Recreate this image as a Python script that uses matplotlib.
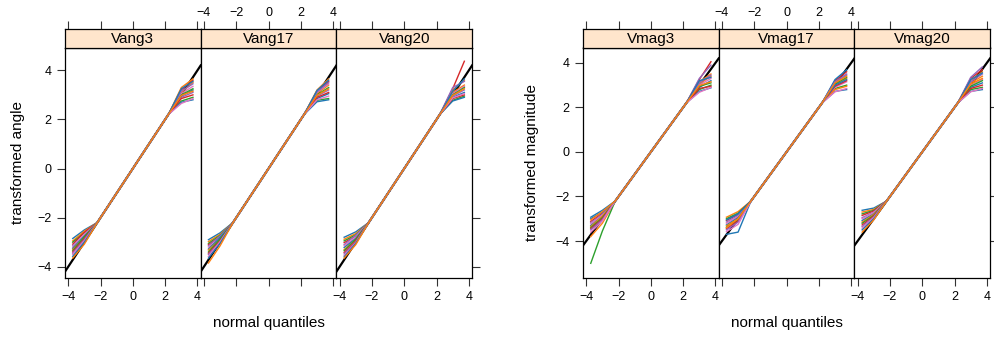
import numpy as np
import matplotlib
matplotlib.use("Agg")
import matplotlib.pyplot as plt

plt.rcParams['font.family'] = ['Liberation Sans', 'DejaVu Sans']

# ---------------- data ----------------
panels_angle = ["Vang3", "Vang17", "Vang20"]
panels_mag = ["Vmag3", "Vmag17", "Vmag20"]

# normal quantile knots of each qq line
q_knots = [-3.72, -3.0, -2.2, 2.2, 3.0, 3.72]
mid_y = [-2.2, 2.2]   # all lines run together on the diagonal in the middle

vang3_lo_end = [-2.85, -2.95, -3.0, -3.08, -3.15, -3.2, -3.25, -3.3, -3.35, -3.4, -3.45, -3.5, -3.58, -3.65]
vang3_lo_mid = [-2.5, -2.55, -2.62, -2.6, -2.7, -2.68, -2.75, -2.8, -2.78, -2.85, -2.9, -2.95, -3.0, -3.08]
vang3_hi_mid = [2.95, 3.1, 2.75, 3.2, 2.9, 3.05, 2.7, 3.3, 3.0, 2.85, 3.15, 2.65, 3.25, 2.98]
vang3_hi_end = [3.2, 3.5, 2.9, 3.6, 3.1, 3.35, 2.8, 3.65, 3.25, 3.0, 3.45, 2.85, 3.55, 3.15]

vang17_lo_end = [-2.9, -2.98, -3.05, -3.1, -3.15, -3.2, -3.28, -3.32, -3.4, -3.45, -3.5, -3.58, -3.65, -3.85]
vang17_lo_mid = [-2.62, -2.68, -2.72, -2.78, -2.75, -2.85, -2.82, -2.9, -2.88, -2.95, -3.0, -2.98, -3.05, -3.15]
vang17_hi_mid = [2.85, 3.05, 2.78, 3.15, 2.95, 3.1, 2.72, 3.2, 3.0, 2.9, 3.12, 2.8, 3.18, 2.98]
vang17_hi_end = [3.05, 3.4, 2.85, 3.55, 3.2, 3.45, 2.8, 3.65, 3.3, 3.1, 3.5, 2.95, 3.6, 3.25]

vang20_lo_end = [-2.8, -2.88, -2.95, -3.02, -3.1, -3.15, -3.22, -3.3, -3.35, -3.42, -3.48, -3.55, -3.6, -3.65]
vang20_lo_mid = [-2.58, -2.65, -2.7, -2.75, -2.72, -2.8, -2.85, -2.9, -2.88, -2.95, -3.0, -3.02, -3.05, -3.1]
vang20_hi_mid = [2.9, 3.1, 2.78, 3.25, 2.95, 3.05, 2.75, 3.2, 3.0, 2.85, 3.3, 2.88, 3.15, 2.98]
vang20_hi_end = [3.1, 3.4, 2.95, 4.37, 3.2, 3.35, 2.9, 3.6, 3.3, 3.0, 3.55, 3.05, 3.65, 3.25]

vmag3_lo_end = [-2.93, -3.8, -5.0, -3.12, -3.18, -3.22, -3.3, -3.35, -3.4, -3.45, -3.5, -3.6, -3.0, -3.05]
vmag3_lo_mid = [-2.62, -3.2, -3.55, -2.75, -2.8, -2.85, -2.9, -2.88, -2.95, -3.0, -3.05, -3.1, -2.7, -2.68]
vmag3_hi_mid = [2.9, 3.05, 2.8, 3.25, 3.3, 3.0, 2.72, 3.15, 2.95, 2.85, 3.1, 2.68, 3.2, 2.98]
vmag3_hi_end = [3.2, 3.4, 3.0, 4.05, 3.9, 3.3, 2.88, 3.5, 3.1, 2.95, 3.45, 2.9, 3.35, 3.15]

vmag17_lo_end = [-3.7, -2.93, -3.0, -3.08, -3.15, -3.2, -3.28, -3.32, -3.38, -3.45, -3.5, -3.58, -3.05, -3.4]
vmag17_lo_mid = [-3.6, -2.68, -2.75, -2.8, -2.85, -2.9, -2.95, -3.0, -3.05, -3.1, -3.15, -3.25, -2.78, -3.0]
vmag17_hi_mid = [2.72, 3.0, 2.85, 3.2, 3.1, 2.9, 3.25, 2.8, 3.05, 2.95, 3.15, 2.7, 3.0, 3.1]
vmag17_hi_end = [2.8, 3.3, 3.0, 3.6, 3.45, 3.15, 3.69, 2.95, 3.35, 3.2, 3.5, 2.85, 3.25, 3.4]

vmag20_lo_end = [-2.62, -2.7, -2.78, -2.85, -2.95, -3.0, -3.08, -3.15, -3.2, -3.28, -3.35, -3.42, -3.5, -3.6]
vmag20_lo_mid = [-2.52, -2.58, -2.62, -2.65, -2.7, -2.72, -2.78, -2.8, -2.85, -2.88, -2.92, -2.95, -3.0, -3.05]
vmag20_hi_mid = [2.9, 3.1, 2.8, 3.3, 3.35, 3.0, 2.72, 3.2, 2.95, 2.85, 3.15, 2.7, 3.25, 3.05]
vmag20_hi_end = [3.1, 3.4, 2.9, 3.7, 3.82, 3.25, 2.8, 3.6, 3.2, 3.0, 3.5, 2.85, 3.55, 3.3]

angle_data = [(vang3_lo_end, vang3_lo_mid, vang3_hi_mid, vang3_hi_end),
              (vang17_lo_end, vang17_lo_mid, vang17_hi_mid, vang17_hi_end),
              (vang20_lo_end, vang20_lo_mid, vang20_hi_mid, vang20_hi_end)]
mag_data = [(vmag3_lo_end, vmag3_lo_mid, vmag3_hi_mid, vmag3_hi_end),
            (vmag17_lo_end, vmag17_lo_mid, vmag17_hi_mid, vmag17_hi_end),
            (vmag20_lo_end, vmag20_lo_mid, vmag20_hi_mid, vmag20_hi_end)]

ref_line = [-4.2, 4.2]
x_ticks = [-4, -2, 0, 2, 4]
y_ticks = [-4, -2, 0, 2, 4]

line_colors = ["#1f77b4", "#ff7f0e", "#2ca02c", "#d62728", "#9467bd", "#e377c2"]

# ---------------- layout (pixels of the 994x337 image) ----------------
W, H = 994, 337
pw = 135.7
panel_top, panel_bot = 47.5, 278
strip_top = 29
tick_col = "#333333"

fig = plt.figure(figsize=(W / 100, H / 100), dpi=100)


def draw_group(x0, names, data, ylim, ylabel, ylab_x):
    for j in range(3):
        left = (x0 + j * pw) / W
        ax = fig.add_axes([left, 1 - panel_bot / H, pw / W, (panel_bot - panel_top) / H])
        st = fig.add_axes([left, 1 - panel_top / H, pw / W, (panel_top - strip_top) / H])

        ax.plot(ref_line, ref_line, color="black", lw=1.6, zorder=1)
        lo_end, lo_mid, hi_mid, hi_end = data[j]
        for i in range(len(lo_end)):
            ys = [lo_end[i], lo_mid[i], mid_y[0], mid_y[1], hi_mid[i], hi_end[i]]
            ax.plot(q_knots, ys, color=line_colors[i % len(line_colors)], lw=1.0, zorder=2)

        ax.set_xlim(-4.2, 4.2)
        ax.set_ylim(*ylim)
        ax.set_xticks(x_ticks)
        ax.set_yticks(y_ticks)
        ax.tick_params(direction="out", length=5.5, width=0.8, color=tick_col,
                       labelsize=9, pad=4)
        ax.tick_params(axis="x", bottom=True, top=False, labelbottom=(j != 1))
        ax.tick_params(axis="y", left=(j == 0), labelleft=(j == 0),
                       right=(j == 2), labelright=False)
        for s in ax.spines.values():
            s.set_linewidth(0.9)
            s.set_color("black")

        # strip with the panel name, top axis ticks sit above it
        st.set_facecolor("#ffe5cc")
        st.set_xlim(-4.2, 4.2)
        st.set_ylim(0, 1)
        st.set_xticks(x_ticks)
        st.set_yticks([])
        st.tick_params(axis="x", direction="out", length=5.5, width=0.8, color=tick_col,
                       labelsize=9, pad=2, bottom=False, labelbottom=False,
                       top=True, labeltop=(j == 1))
        for s in st.spines.values():
            s.set_linewidth(0.9)
            s.set_color("black")
        st.text(0.5, 0.45, names[j], transform=st.transAxes, ha="center", va="center",
                fontsize=11)

    fig.text((x0 + 1.5 * pw) / W, 1 - 323 / H, "normal quantiles", ha="center",
             va="center", fontsize=11)
    fig.text(ylab_x / W, 1 - 163 / H, ylabel, ha="center", va="center",
             rotation=90, fontsize=11)


draw_group(65, panels_angle, angle_data, (-4.46, 4.93), "transformed angle", 18)
draw_group(583, panels_mag, mag_data, (-5.66, 4.69), "transformed magnitude", 532)

fig.savefig("out.png", dpi=100)
